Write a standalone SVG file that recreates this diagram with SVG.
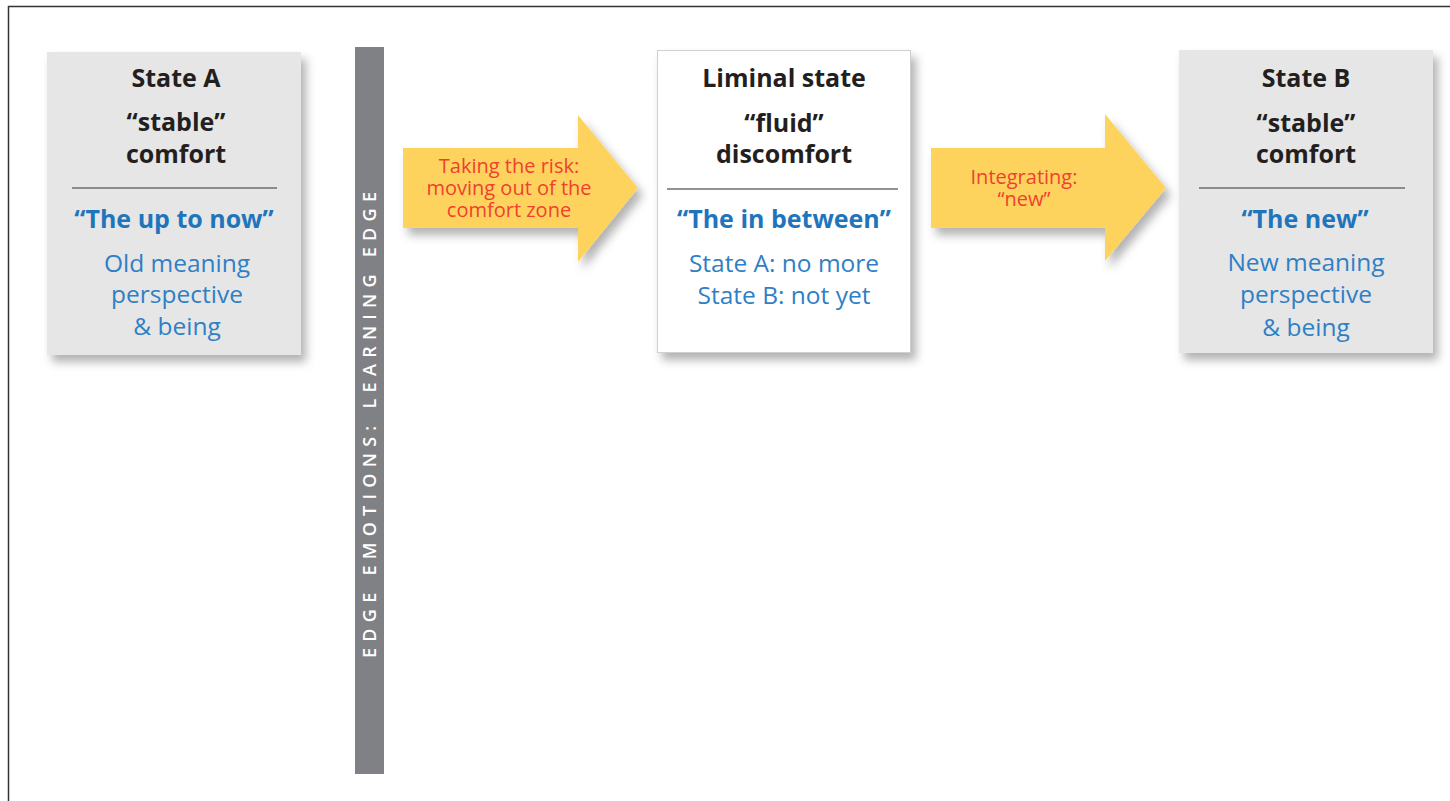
<svg xmlns="http://www.w3.org/2000/svg" width="1450" height="801" viewBox="0 0 1450 801">
<defs>
<filter id="sh" x="-20%" y="-20%" width="150%" height="150%">
<feDropShadow dx="5" dy="7" stdDeviation="5" flood-color="#000" flood-opacity="0.3"/>
</filter>
<style>
text{font-family:"Open Sans","Noto Sans","Liberation Sans",sans-serif;text-anchor:middle}
.h{font-size:25px;font-weight:700;fill:#231f20}
.q{font-size:25px;font-weight:700;fill:#1f75bc}
.b{font-size:24.5px;fill:#2f7fc6}
.a{font-size:20px;fill:#ef4130}
.sep{stroke:#6d6e71;stroke-width:1.5}
.gray{fill:#e6e6e6}
.arr{fill:#fed35d}
</style>
</defs>
<rect width="1450" height="801" fill="#fff"/>
<path d="M8.5,801 V6.5 H1450" fill="none" stroke="#333" stroke-width="1.5"/>

<g id="edge-bar">
<rect x="355" y="47" width="29" height="727" fill="#808185"/>
<text transform="translate(375.5,423) rotate(-90)" x="0" y="0" textLength="470" lengthAdjust="spacing" style="font-size:18px;font-weight:600;fill:#fff;letter-spacing:4px">EDGE EMOTIONS: LEARNING EDGE</text>
</g>

<g id="connectors">
<g id="arrow-risk">
<path class="arr" filter="url(#sh)" d="M403,148 H578 V115 L638,188 L578,262 V228 H403 Z"/>
<text class="a" x="509" y="173">Taking the risk:</text>
<text class="a" x="509" y="195">moving out of the</text>
<text class="a" x="509" y="217">comfort zone</text>
</g>
<g id="arrow-integrating">
<path class="arr" filter="url(#sh)" d="M931,148 H1105 V114 L1166,188 L1105,261 V228 H931 Z"/>
<text class="a" x="1024" y="184">Integrating:</text>
<text class="a" x="1024" y="206">“new”</text>
</g>
</g>

<g id="state-a">
<rect class="gray" x="47" y="52" width="254" height="303" filter="url(#sh)"/>
<text class="h" x="176" y="87">State A</text>
<text class="h" x="176" y="131">“stable”</text>
<text class="h" x="176" y="163">comfort</text>
<line class="sep" x1="72" y1="188" x2="277" y2="188"/>
<text class="q" x="174" y="228">“The up to now”</text>
<text class="b" x="177" y="272">Old meaning</text>
<text class="b" x="177" y="303">perspective</text>
<text class="b" x="177" y="335">&amp; being</text>
</g>

<g id="liminal-state">
<rect x="657.5" y="50.5" width="253" height="302" fill="#fff" stroke="#d0d0d0" stroke-width="1" filter="url(#sh)"/>
<text class="h" x="784" y="87">Liminal state</text>
<text class="h" x="784" y="132">“fluid”</text>
<text class="h" x="784" y="163">discomfort</text>
<line class="sep" x1="667" y1="189" x2="898" y2="189"/>
<text class="q" x="784" y="228">“The in between”</text>
<text class="b" x="784" y="272">State A: no more</text>
<text class="b" x="784" y="304">State B: not yet</text>
</g>

<g id="state-b">
<rect class="gray" x="1179" y="50" width="254" height="303" filter="url(#sh)"/>
<text class="h" x="1306" y="87">State B</text>
<text class="h" x="1306" y="132">“stable”</text>
<text class="h" x="1306" y="163">comfort</text>
<line class="sep" x1="1199" y1="188" x2="1405" y2="188"/>
<text class="q" x="1305" y="228">“The new”</text>
<text class="b" x="1306" y="271">New meaning</text>
<text class="b" x="1306" y="303">perspective</text>
<text class="b" x="1306" y="336">&amp; being</text>
</g>
</svg>
